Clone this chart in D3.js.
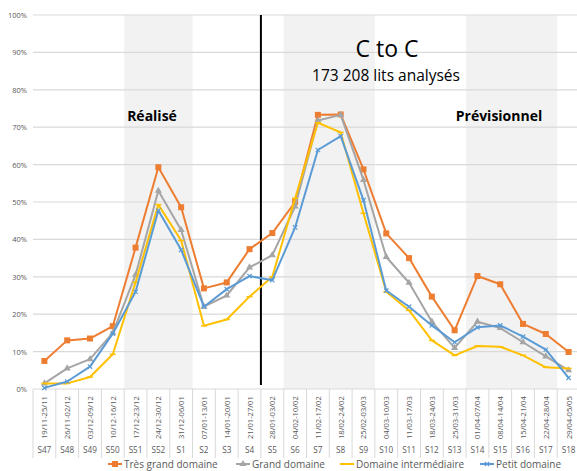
<!DOCTYPE html>
<html>
<head>
<meta charset="utf-8">
<script src="https://cdn.jsdelivr.net/npm/d3@7"></script>
<style>
  body { margin: 0; background: #fff; }
  text { font-family: "Open Sans", "Noto Sans", sans-serif; }
</style>
</head>
<body>
<div id="chart"></div>
<script>
let weeks = ["S47","S48","S49","S50","S51","S52","S1","S2","S3","S4","S5","S6","S7","S8","S9","S10","S11","S12","S13","S14","S15","S16","S17","S18"];
let dates = ["19/11-25/11","26/11-02/12","03/12-09/12","10/12-16/12","17/12-23/12","24/12-30/12","31/12-06/01","07/01-13/01","14/01-20/01","21/01-27/01","28/01-03/02","04/02-10/02","11/02-17/02","18/02-24/02","25/02-03/03","04/03-10/03","11/03-17/03","18/03-24/03","25/03-31/03","01/04-07/04","08/04-14/04","15/04-21/04","22/04-28/04","29/04-05/05"];
let seriesNames = ["Très grand domaine","Grand domaine","Domaine intermédiaire","Petit domaine"];

let tresGrand = [7.5,13,13.5,16.8,37.8,59.3,48.6,26.9,28.5,37.4,41.7,50,73.3,73.4,58.7,41.6,35,24.7,15.7,30.2,28,17.4,14.7,9.9];
let grand = [1.5,5.5,8,15,30.5,53,42.5,22,25,32.5,35.8,48.8,71.8,73.3,55.9,35.3,28.4,18,11,18,16.3,12.5,8.7,5];
let intermediaire = [1.5,1.5,3.2,9.3,28.5,49.3,39.7,16.9,18.6,24.7,30,51,71.2,68.6,47,26,21,13,9,11.5,11.3,9,5.8,5.5];
let petit = [0.3,2,6,14.8,26,47.7,37.2,22,26.7,30.2,29.1,43.2,63.9,67.6,50.5,26.3,22,17,12.5,16.5,17,14,10.5,3];

let yTicks = [0,10,20,30,40,50,60,70,80,90,100];
let shaded = [["S51","S1"],["S6","S9"],["S14","S17"]];

let colors = ["#ed7d31","#a5a5a5","#ffc000","#5b9bd5"];
let allSeries = [tresGrand, grand, intermediaire, petit];

let width = 577;
let height = 471;

let x = d3.scaleBand().domain(weeks).range([33, 580]);
let y = d3.scaleLinear().domain([0, 100]).range([389, 15]);

let svg = d3.select("#chart").append("svg")
  .attr("width", width)
  .attr("height", height);

// grey shaded weeks
shaded.forEach((s) => {
  svg.append("rect")
    .attr("x", x(s[0]))
    .attr("y", y(100))
    .attr("width", x(s[1]) + x.bandwidth() - x(s[0]))
    .attr("height", y(0) - y(100))
    .attr("fill", "#f2f2f2");
});

// gridlines
svg.append("g")
  .selectAll("line")
  .data(yTicks)
  .enter()
  .append("line")
  .attr("x1", 33)
  .attr("x2", width)
  .attr("y1", (d) => y(d))
  .attr("y2", (d) => y(d))
  .attr("stroke", "#d9d9d9")
  .attr("stroke-width", 1.2);

svg.append("g")
  .selectAll("text")
  .data(yTicks)
  .enter()
  .append("text")
  .attr("x", 27)
  .attr("y", (d) => y(d) + 3)
  .attr("text-anchor", "end")
  .attr("font-size", 7.5)
  .attr("fill", "#595959")
  .text((d) => d + "%");

// category separators
svg.append("g")
  .selectAll("line")
  .data(weeks.concat(["end"]))
  .enter()
  .append("line")
  .attr("x1", (d, i) => 33 + i * x.step())
  .attr("x2", (d, i) => 33 + i * x.step())
  .attr("y1", y(0))
  .attr("y2", 458)
  .attr("stroke", "#d9d9d9");

// date labels
svg.append("g")
  .selectAll("text")
  .data(dates)
  .enter()
  .append("text")
  .attr("transform", (d, i) => "translate(" + (x(weeks[i]) + x.bandwidth() / 2 + 3) + ",439) rotate(-90)")
  .attr("font-size", 7.6)
  .attr("fill", "#595959")
  .text((d) => d);

svg.append("g")
  .selectAll("text")
  .data(weeks)
  .enter()
  .append("text")
  .attr("x", (d) => x(d) + x.bandwidth() / 2)
  .attr("y", 453)
  .attr("text-anchor", "middle")
  .attr("font-size", 8.2)
  .attr("fill", "#595959")
  .text((d) => d);

// separator between realise and previsionnel
svg.append("line")
  .attr("x1", x("S5"))
  .attr("x2", x("S5"))
  .attr("y1", y(100))
  .attr("y2", 385)
  .attr("stroke", "#000")
  .attr("stroke-width", 2);

let line = d3.line()
  .x((d, i) => x(weeks[i]) + x.bandwidth() / 2)
  .y((d) => y(d));

function marker(g, k, cx, cy) {
  if (k == 0) {
    g.append("rect").attr("x", cx - 3).attr("y", cy - 3).attr("width", 6).attr("height", 6)
      .attr("fill", colors[0]);
  } else if (k == 1) {
    g.append("path").attr("d", d3.symbol(d3.symbolTriangle, 22)()).attr("transform", "translate(" + cx + "," + cy + ")")
      .attr("fill", colors[1]);
  } else if (k == 2) {
    g.append("line").attr("x1", cx - 3).attr("x2", cx + 3).attr("y1", cy).attr("y2", cy)
      .attr("stroke", colors[2]).attr("stroke-width", 1.5);
  } else {
    g.append("path").attr("d", d3.symbol(d3.symbolX, 14)()).attr("transform", "translate(" + cx + "," + cy + ")")
      .attr("stroke", colors[3]).attr("stroke-width", 1.2).attr("fill", "none");
  }
}

allSeries.forEach((s, k) => {
  let g = svg.append("g");
  g.append("path")
    .datum(s)
    .attr("d", line)
    .attr("fill", "none")
    .attr("stroke", colors[k])
    .attr("stroke-width", 2)
    .attr("stroke-linejoin", "round");
  s.forEach((v, i) => {
    marker(g, k, x(weeks[i]) + x.bandwidth() / 2, y(v));
  });
});

// annotations
svg.append("text")
  .attr("x", 387)
  .attr("y", 57)
  .attr("text-anchor", "middle")
  .attr("font-size", 23)
  .attr("fill", "#000")
  .text("C to C");

svg.append("text")
  .attr("x", 386)
  .attr("y", 81)
  .attr("text-anchor", "middle")
  .attr("font-size", 15.5)
  .attr("fill", "#000")
  .text("173 208 lits analysés");

svg.append("text")
  .attr("x", 152)
  .attr("y", 121)
  .attr("text-anchor", "middle")
  .attr("font-size", 14)
  .attr("font-weight", "bold")
  .attr("fill", "#000")
  .text("Réalisé");

svg.append("text")
  .attr("x", 499)
  .attr("y", 121)
  .attr("text-anchor", "middle")
  .attr("font-size", 14)
  .attr("font-weight", "bold")
  .attr("fill", "#000")
  .text("Prévisionnel");

// legend
let legendX = [108, 236, 340, 480];
seriesNames.forEach((name, k) => {
  let g = svg.append("g");
  g.append("line")
    .attr("x1", legendX[k])
    .attr("x2", legendX[k] + 14)
    .attr("y1", 464)
    .attr("y2", 464)
    .attr("stroke", colors[k])
    .attr("stroke-width", 2);
  marker(g, k, legendX[k] + 7, 464);
  g.append("text")
    .attr("x", legendX[k] + 16)
    .attr("y", 468)
    .attr("font-size", 10)
    .attr("fill", "#595959")
    .text(name);
});
</script>
</body>
</html>
